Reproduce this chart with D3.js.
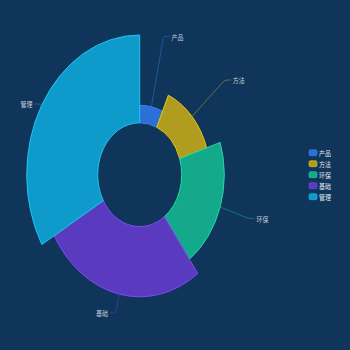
<!DOCTYPE html>
<html><head><meta charset="utf-8">
<script src="https://cdn.jsdelivr.net/npm/d3@7"></script>
<style>html,body{margin:0;padding:0;background:#0f355a;}svg{display:block;}</style>
</head><body><div id="chart"></div>
<script>
const categories = ['产品', '方法', '环保', '基础', '管理'];
const values = [10, 20, 30, 40, 50];
const fills = ['#2c6fd6', '#b09c1f', '#14a98a', '#5a3bc0', '#0e9bcb'];
const strokes = ['#3a86f2', '#eec416', '#20d8a6', '#7a4cf0', '#1ec4f4'];

const W = 350, H = 350;
const cx = 139.7, cy = 174.7, sy = 1.236;
const r0 = 42, r1 = 113;

const svg = d3.select('#chart').append('svg').attr('width', W).attr('height', H);
svg.append('rect').attr('width', W).attr('height', H).attr('fill', '#0f355a');

const rScale = d3.scaleLinear().domain([0, d3.max(values)]).range([r0, r1]);
const pie = d3.pie().sort(null).value(d => d.v).startAngle(0).endAngle(2 * Math.PI);
const data = pie(categories.map((c, i) => ({c, v: values[i], i})));

const g = svg.append('g').attr('transform', `translate(${cx},${cy}) scale(1,${sy})`);
g.selectAll('path').data(data).join('path')
  .attr('d', d => d3.arc().innerRadius(r0).outerRadius(rScale(d.data.v))(d))
  .attr('fill', d => fills[d.data.i])
  .attr('stroke', d => strokes[d.data.i])
  .attr('stroke-width', 1)
  .attr('vector-effect', 'non-scaling-stroke');

// labels
const toScreen = (r, a) => [cx + r * Math.sin(a), cy - r * Math.cos(a) * sy];
const lab = svg.append('g');
data.forEach(d => {
  const a = (d.startAngle + d.endAngle) / 2;
  const p0 = toScreen(rScale(d.data.v), a);
  const p1 = toScreen(r1 + 1.5, a);
  const right = Math.sin(a) >= 0;
  const dir = right ? 1 : -1;
  const p2 = [p1[0] + dir * 6, p1[1]];
  const dx = p1[0] - p0[0], dy = p1[1] - p0[1];
  const len = Math.hypot(dx, dy);
  const q0 = [p1[0] - dx / len * 3, p1[1] - dy / len * 3];
  const q1 = [p1[0] + dir * 3, p1[1]];
  lab.append('path')
    .attr('d', `M${p0[0]},${p0[1]}L${q0[0]},${q0[1]}Q${p1[0]},${p1[1]} ${q1[0]},${q1[1]}L${p2[0]},${p2[1]}`)
    .attr('fill', 'none').attr('stroke', fills[d.data.i]).attr('stroke-opacity', 0.55).attr('stroke-width', 1);
  const tx = p2[0] + dir * 2;
  lab.append('text')
    .attr('transform', `translate(${tx},${p2[1]}) scale(1,1.2)`)
    .attr('text-anchor', right ? 'start' : 'end')
    .attr('dominant-baseline', 'central')
    .attr('font-family', '"Noto Sans CJK SC", sans-serif')
    .attr('font-size', 6)
    .attr('fill', '#c5cfdb')
    .text(d.data.c);
});

// legend
const leg = svg.append('g');
categories.forEach((c, i) => {
  const y = 152.7 + i * 11;
  leg.append('rect').attr('x', 309).attr('y', y - 3).attr('width', 8).attr('height', 6)
    .attr('rx', 1.5).attr('fill', fills[i]).attr('stroke', strokes[i]).attr('stroke-width', 0.6);
  leg.append('text')
    .attr('transform', `translate(319,${y}) scale(1,1.2)`)
    .attr('dominant-baseline', 'central')
    .attr('font-family', '"Noto Sans CJK SC", sans-serif')
    .attr('font-size', 6)
    .attr('fill', '#e3e9f0')
    .text(c);
});
</script></body></html>
